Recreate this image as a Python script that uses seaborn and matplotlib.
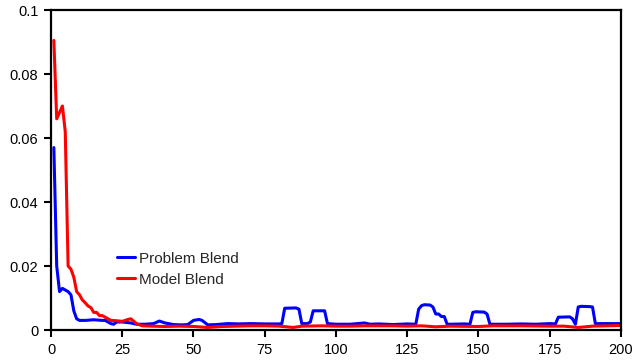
import matplotlib
matplotlib.use("Agg")
import matplotlib.pyplot as plt
import seaborn as sns
import pandas as pd

problem_x = [1, 2, 3, 4, 5, 6, 7, 8, 9, 10, 12, 15, 18, 19, 20, 21, 22, 23, 25, 28, 30, 33, 36, 38, 40, 43,
             46, 48, 50, 52, 53, 55, 58, 62, 66, 70, 75, 78, 80, 81, 82, 86, 87, 88, 90, 91, 92, 96, 97, 100,
             105, 110, 112, 115, 120, 125, 128, 129, 130, 131, 133, 134, 135, 136, 137, 138, 139, 140, 145,
             147, 148, 149, 152, 153, 154, 156, 160, 165, 170, 175, 177, 178, 182, 183, 184, 185, 186, 189,
             190, 191, 195, 200]
problem_y = [0.057, 0.02, 0.012, 0.013, 0.0125, 0.012, 0.011, 0.006, 0.0035, 0.003, 0.003, 0.0032, 0.003,
             0.003, 0.0025, 0.002, 0.0018, 0.0025, 0.0025, 0.0022, 0.0018, 0.0018, 0.002, 0.0028, 0.0022,
             0.0017, 0.0016, 0.0017, 0.003, 0.0033, 0.003, 0.0016, 0.0017, 0.002, 0.0019, 0.002, 0.0019,
             0.0019, 0.0019, 0.002, 0.0068, 0.0069, 0.0065, 0.002, 0.002, 0.0025, 0.006, 0.006, 0.002, 0.0018,
             0.0018, 0.0022, 0.0018, 0.0019, 0.0017, 0.0019, 0.0018, 0.0065, 0.0076, 0.0079, 0.0078, 0.0072,
             0.005, 0.005, 0.0042, 0.0042, 0.0018, 0.0018, 0.0019, 0.0018, 0.0055, 0.0057, 0.0056, 0.005,
             0.0018, 0.0018, 0.0018, 0.0019, 0.0018, 0.002, 0.0019, 0.004, 0.0041, 0.0035, 0.0018, 0.0072,
             0.0074, 0.0073, 0.0072, 0.002, 0.002, 0.002]

model_x = [1, 2, 3, 4, 5, 6, 7, 8, 9, 10, 11, 12, 13, 14, 15, 16, 17, 18, 19, 20, 21, 23, 25, 27, 28, 30,
           32, 35, 40, 45, 50, 55, 60, 65, 70, 75, 80, 85, 88, 95, 100, 105, 110, 120, 125, 130, 135, 140,
           150, 155, 165, 175, 180, 185, 190, 200]
model_y = [0.0905, 0.066, 0.068, 0.070, 0.062, 0.020, 0.019, 0.0165, 0.012, 0.011, 0.0094, 0.0085, 0.0075,
           0.007, 0.0055, 0.0055, 0.0045, 0.0045, 0.004, 0.0035, 0.003, 0.0029, 0.0027, 0.0033, 0.0035, 0.002,
           0.0013, 0.0012, 0.0011, 0.0012, 0.0011, 0.0008, 0.0011, 0.0012, 0.0013, 0.0013, 0.0012, 0.0008,
           0.0012, 0.0013, 0.0012, 0.0012, 0.0013, 0.0013, 0.0012, 0.0013, 0.0010, 0.0012, 0.0011, 0.0013,
           0.0013, 0.0012, 0.0012, 0.0008, 0.0012, 0.0014]

series_names = ["Problem Blend", "Model Blend"]
x_ticks = [0, 25, 50, 75, 100, 125, 150, 175, 200]
y_ticks = [0, 0.02, 0.04, 0.06, 0.08, 0.1]
y_tick_labels = ["0", "0.02", "0.04", "0.06", "0.08", "0.1"]

df = pd.concat([
    pd.DataFrame({"x": problem_x, "y": problem_y, "series": series_names[0]}),
    pd.DataFrame({"x": model_x, "y": model_y, "series": series_names[1]}),
])

sns.set_style("white")
plt.rcParams["font.family"] = ["Liberation Sans", "DejaVu Sans"]

fig = plt.figure(figsize=(6.34, 3.64), dpi=100)
ax = fig.add_axes([51 / 634, 34 / 364, 570 / 634, 320 / 364])
sns.lineplot(data=df, x="x", y="y", hue="series", palette={"Problem Blend": "#0000FF", "Model Blend": "#FF0000"},
             linewidth=2.2, ax=ax, legend=True, sort=False, estimator=None)

ax.set_xlim(0, 200)
ax.set_ylim(0, 0.1)
ax.set_xticks(x_ticks)
ax.set_xticklabels([str(t) for t in x_ticks])
ax.set_yticks(y_ticks)
ax.set_yticklabels(y_tick_labels)
ax.set_xlabel("")
ax.set_ylabel("")
for s in ax.spines.values():
    s.set_visible(True)
    s.set_color("black")
    s.set_linewidth(1.6)
ax.tick_params(axis="both", direction="out", length=5, width=1.5, colors="black", labelsize=10.5,
               bottom=True, left=True, top=False, right=False, pad=4)

handles, labels = ax.get_legend_handles_labels()
ax.legend(handles, labels, loc="upper left", bbox_to_anchor=(0.1158, 0.245), frameon=False, fontsize=11,
          handlelength=1.18, handletextpad=0.28, labelspacing=0.47, borderpad=0, borderaxespad=0)

fig.savefig("out.png", dpi=100)
